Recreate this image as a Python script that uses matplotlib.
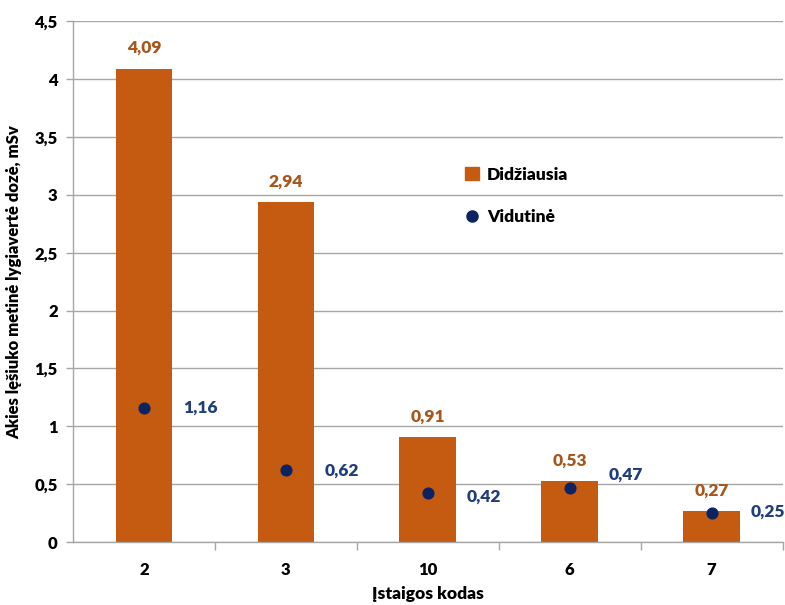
import matplotlib.pyplot as plt
from matplotlib.ticker import FuncFormatter, MultipleLocator, FixedLocator
from matplotlib.lines import Line2D
from matplotlib.patches import Patch

plt.rcParams['font.family'] = ['Lato', 'DejaVu Sans']
plt.rcParams['font.weight'] = 'bold'

# Dose per institution
codes = ['2', '3', '10', '6', '7']
max_dose = [4.09, 2.94, 0.91, 0.53, 0.27]
mean_dose = [1.16, 0.62, 0.42, 0.47, 0.25]

bar_color = '#c55a11'
bar_text = '#a8561c'
dot_color = '#0c2363'
dot_text = '#1f3f7a'
grid_color = '#a6a6a6'

def comma(v, pos=None):
    s = f'{v:g}'
    return s.replace('.', ',')

fig = plt.figure(figsize=(7.85, 6.05), dpi=100)
ax = fig.add_axes([0.093, 0.104, 0.904, 0.861])

x = list(range(len(codes)))
ax.bar(x, max_dose, width=0.4, color=bar_color, zorder=2)
ax.scatter(x, mean_dose, s=60, color=dot_color, zorder=3)

for xi, v in zip(x, max_dose):
    ax.annotate(f'{v:.2f}'.replace('.', ','), (xi, v), xytext=(0, 9),
                textcoords='offset points', ha='center', va='bottom',
                color=bar_text, fontsize=12.5, fontweight='heavy')

# nudge the label that would collide with its bar's value label
dy = [0, 0, -2, 9, 1]
for xi, v, d in zip(x, mean_dose, dy):
    ax.annotate(f'{v:.2f}'.replace('.', ','), (xi, v), xytext=(28, d),
                textcoords='offset points', ha='left', va='center',
                color=dot_text, fontsize=12.5, fontweight='heavy')

ax.set_xlim(-0.5, len(codes) - 0.5)
ax.set_ylim(0, 4.5)
ax.yaxis.set_major_locator(MultipleLocator(0.5))
ax.yaxis.set_major_formatter(FuncFormatter(comma))
ax.grid(axis='y', color=grid_color, linewidth=1, zorder=0)
ax.set_axisbelow(True)

ax.set_xticks(x)
ax.set_xticklabels(codes)
ax.xaxis.set_minor_locator(FixedLocator([i + 0.5 for i in range(len(codes))]))
ax.tick_params(axis='x', which='major', length=0, pad=14, labelsize=12)
ax.tick_params(axis='x', which='minor', length=6, color=grid_color, width=1)
ax.tick_params(axis='y', length=5, color=grid_color, width=1, pad=6, labelsize=12)
for lbl in ax.get_xticklabels() + ax.get_yticklabels():
    lbl.set_fontweight('heavy')

for side in ['top', 'right']:
    ax.spines[side].set_visible(False)
for side in ['left', 'bottom']:
    ax.spines[side].set_color(grid_color)
    ax.spines[side].set_linewidth(1)

ax.set_xlabel('Įstaigos kodas', fontsize=12.5, fontweight='heavy', labelpad=6)
ax.set_ylabel('Akies lęšiuko metinė lygiavertė dozė, mSv', fontsize=12,
              fontweight='heavy', labelpad=9)

handles = [Patch(color=bar_color, label='Didžiausia'),
           Line2D([], [], marker='o', linestyle='none', markersize=8,
                  color=dot_color, label='Vidutinė')]
fig.legend(handles=handles, loc='upper left', bbox_to_anchor=(0.572, 0.75),
           frameon=False, prop={'size': 12.5, 'weight': 'heavy'},
           labelspacing=1.5, handlelength=0.8, handletextpad=0.5,
           handleheight=0.8)

fig.savefig('out.png', dpi=100)
